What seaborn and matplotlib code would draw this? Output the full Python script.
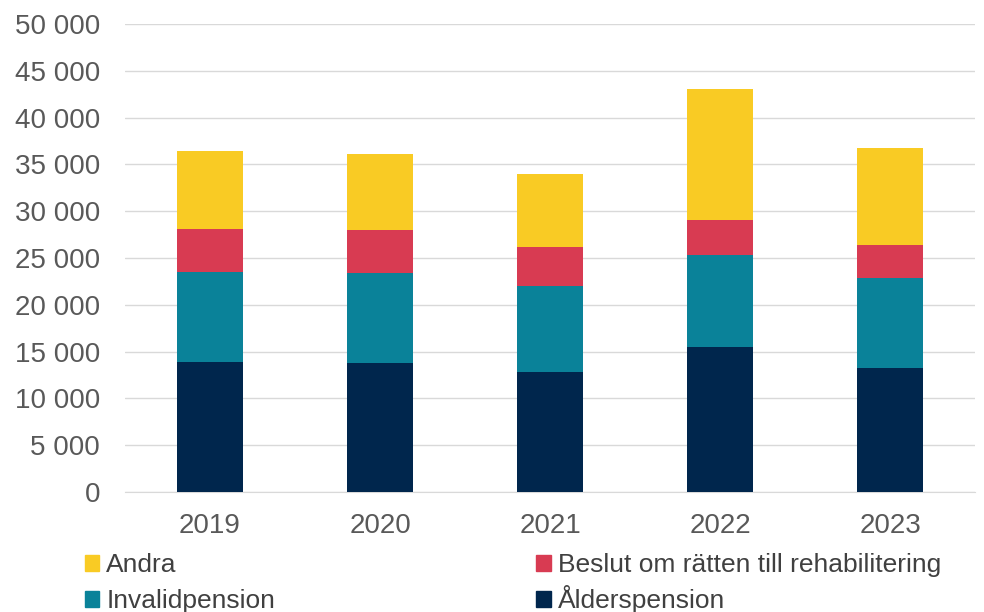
import matplotlib
matplotlib.use("Agg")
import matplotlib.pyplot as plt
import matplotlib.ticker as mticker
from matplotlib.patches import Patch
import seaborn as sns
import pandas as pd

# data
years = ["2019", "2020", "2021", "2022", "2023"]
alderspension = [13890, 13740, 12850, 15450, 13240]
invalidpension = [9660, 9670, 9130, 9850, 9670]
beslut = [4580, 4610, 4220, 3750, 3430]
andra = [8240, 8060, 7800, 13990, 10420]

series = ["Ålderspension", "Invalidpension",
          "Beslut om rätten till rehabilitering", "Andra"]
colors = {"Ålderspension": "#00264D", "Invalidpension": "#0A8299",
          "Beslut om rätten till rehabilitering": "#D83B52", "Andra": "#F9CB24"}

df = pd.DataFrame({"År": years, "Ålderspension": alderspension,
                   "Invalidpension": invalidpension,
                   "Beslut om rätten till rehabilitering": beslut,
                   "Andra": andra})

# cumulative sums for stacking
cum = df[series].cumsum(axis=1)
cum["År"] = df["År"]

sns.set_style("white")
plt.rcParams["font.family"] = ["Liberation Sans", "DejaVu Sans"]

fig, ax = plt.subplots(figsize=(9.84, 6.12), dpi=100)
fig.subplots_adjust(left=0.127, right=0.991, top=0.961, bottom=0.196)

# draw from the top layer down so lower layers cover the upper ones
for name in reversed(series):
    sns.barplot(data=cum, x="År", y=name, color=colors[name], width=0.39,
                saturation=1, linewidth=0, ax=ax, zorder=3)

ax.set_ylim(0, 50000)
ax.set_xlim(-0.5, 4.5)
ax.yaxis.set_major_locator(mticker.MultipleLocator(5000))
ax.yaxis.set_major_formatter(
    mticker.FuncFormatter(lambda v, p: f"{int(v):,}".replace(",", " ")))
ax.grid(axis="y", color="#D9D9D9", linewidth=1, zorder=0)
ax.set_axisbelow(True)
ax.set_xlabel("")
ax.set_ylabel("")

for s in ["top", "right", "left"]:
    ax.spines[s].set_visible(False)
ax.spines["bottom"].set_color("#D9D9D9")
ax.tick_params(axis="both", length=0, labelsize=20, colors="#595959")
ax.tick_params(axis="y", pad=18)
ax.tick_params(axis="x", pad=15)

# legend below the chart: two rows, two columns, one entry each so the
# baselines line up
legend_items = [("Andra", 0.086, 0.057),
                ("Beslut om rätten till rehabilitering", 0.545, 0.057),
                ("Invalidpension", 0.086, -0.002),
                ("Ålderspension", 0.545, -0.002)]
for label, lx, ly in legend_items:
    leg = fig.legend([Patch(color=colors[label])], [label], loc="lower left",
                     bbox_to_anchor=(lx, ly), frameon=False, fontsize=19,
                     borderpad=0, borderaxespad=0,
                     handlelength=0.55, handleheight=0.55, handletextpad=0.27,
                     labelcolor="#404040")

plt.savefig("out.png", dpi=100)
plt.close(fig)
